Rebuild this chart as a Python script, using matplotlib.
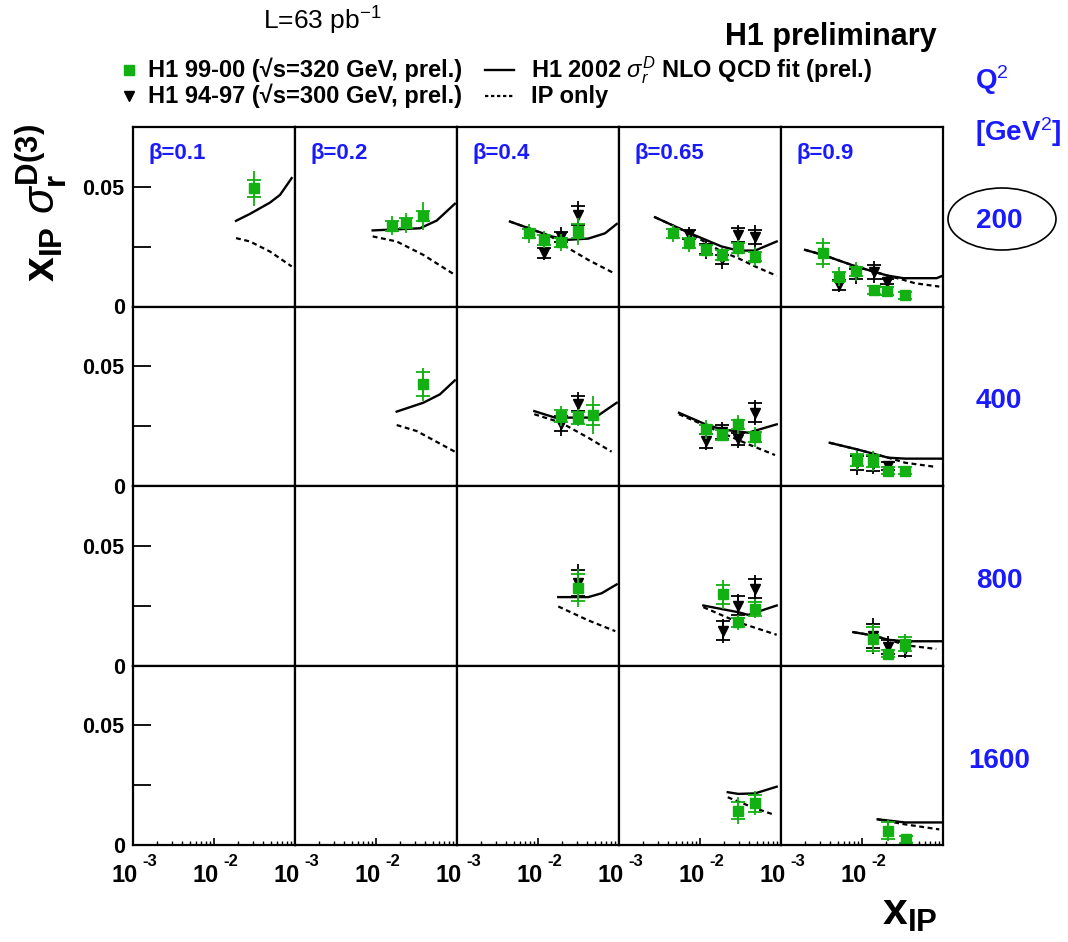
import numpy as np
import matplotlib
matplotlib.use("Agg")
import matplotlib.pyplot as plt
from matplotlib.lines import Line2D
from matplotlib.patches import Ellipse
from matplotlib.transforms import offset_copy

plt.rcParams['font.family'] = ['Liberation Sans', 'DejaVu Sans']
plt.rcParams['mathtext.fontset'] = 'custom'
plt.rcParams['mathtext.rm'] = 'Liberation Sans'
plt.rcParams['mathtext.it'] = 'Liberation Sans:italic'
plt.rcParams['mathtext.bf'] = 'Liberation Sans:bold'

# bins of the grid
q2_bins = [200, 400, 800, 1600]
beta_bins = [0.1, 0.2, 0.4, 0.65, 0.9]

# H1 99-00 (green squares): panel, x_IP, x_IP*sigma, stat error, total error
new_panels = [(200, 0.1), (200, 0.2), (200, 0.4), (200, 0.65), (200, 0.9),
              (400, 0.2), (400, 0.4), (400, 0.65), (400, 0.9),
              (800, 0.4), (800, 0.65), (800, 0.9),
              (1600, 0.65), (1600, 0.9)]
new_x = [[0.031],
         [0.0156, 0.0234, 0.0384],
         [0.0077, 0.012, 0.0192, 0.0315],
         [0.0047, 0.0074, 0.0118, 0.0185, 0.0297, 0.0478],
         [0.0033, 0.0052, 0.0084, 0.0141, 0.0205, 0.034],
         [0.0384],
         [0.0192, 0.0315, 0.0482],
         [0.0118, 0.0185, 0.0297, 0.0478],
         [0.0086, 0.0138, 0.0211, 0.034],
         [0.0315],
         [0.019, 0.0297, 0.0478],
         [0.0138, 0.0211, 0.034],
         [0.0297, 0.0478],
         [0.0211, 0.0345]]
new_y = [[0.0492],
         [0.0336, 0.0347, 0.0378],
         [0.0305, 0.0278, 0.0267, 0.0313],
         [0.0305, 0.0264, 0.0236, 0.0215, 0.0243, 0.0208],
         [0.0222, 0.0125, 0.0146, 0.0069, 0.0065, 0.0046],
         [0.0424],
         [0.0292, 0.0285, 0.0296],
         [0.0236, 0.0213, 0.0257, 0.0204],
         [0.0107, 0.0104, 0.0063, 0.0063],
         [0.0324],
         [0.0296, 0.018, 0.0236],
         [0.0111, 0.0049, 0.009],
         [0.0143, 0.0174],
         [0.006, 0.0024]]
new_stat = [[0.0035],
            [0.002, 0.002, 0.002],
            [0.002, 0.002, 0.002, 0.0029],
            [0.002, 0.002, 0.002, 0.002, 0.002, 0.002],
            [0.0044, 0.002, 0.002, 0.0015, 0.0015, 0.0015],
            [0.0049],
            [0.0025, 0.0025, 0.0042],
            [0.002, 0.002, 0.002, 0.002],
            [0.0025, 0.0025, 0.0015, 0.0015],
            [0.0056],
            [0.004, 0.002, 0.0028],
            [0.005, 0.0015, 0.003],
            [0.0035, 0.0035],
            [0.0035, 0.0015]]
new_tot = [[0.0073],
           [0.004, 0.0042, 0.0058],
           [0.004, 0.0035, 0.0037, 0.0056],
           [0.0035, 0.0035, 0.003, 0.003, 0.0035, 0.004],
           [0.0063, 0.004, 0.0038, 0.002, 0.002, 0.002],
           [0.0069],
           [0.0042, 0.0035, 0.008],
           [0.004, 0.0025, 0.004, 0.004],
           [0.004, 0.004, 0.002, 0.002],
           [0.008],
           [0.0059, 0.003, 0.004],
           [0.006, 0.002, 0.004],
           [0.0056, 0.005],
           [0.0045, 0.002]]

# H1 94-97 (black triangles)
old_panels = [(200, 0.4), (200, 0.65), (200, 0.9),
              (400, 0.4), (400, 0.65), (400, 0.9),
              (800, 0.4), (800, 0.65), (800, 0.9)]
old_x = [[0.012, 0.0192, 0.0315],
         [0.0074, 0.0118, 0.0185, 0.0297, 0.0478],
         [0.0052, 0.0084, 0.0141, 0.0205],
         [0.0192, 0.0315],
         [0.0118, 0.0185, 0.0297, 0.0478],
         [0.0086, 0.0138, 0.0211],
         [0.0315],
         [0.019, 0.0297, 0.0478],
         [0.0138, 0.0211, 0.034]]
old_y = [[0.0222, 0.029, 0.038],
         [0.030, 0.024, 0.0196, 0.0299, 0.029],
         [0.009, 0.0135, 0.0143, 0.0104],
         [0.026, 0.0343],
         [0.0188, 0.0226, 0.0194, 0.0305],
         [0.0097, 0.0093, 0.0083],
         [0.0344],
         [0.0145, 0.025, 0.032],
         [0.0122, 0.0076, 0.007]]
old_stat = [[0.002, 0.002, 0.004],
            [0.002, 0.002, 0.002, 0.003, 0.003],
            [0.002, 0.002, 0.003, 0.001],
            [0.003, 0.003],
            [0.003, 0.003, 0.0025, 0.004],
            [0.003, 0.003, 0.0015],
            [0.0055],
            [0.004, 0.004, 0.004],
            [0.005, 0.003, 0.003]]
old_tot = [[0.003, 0.004, 0.006],
           [0.003, 0.004, 0.004, 0.004, 0.005],
           [0.003, 0.004, 0.0045, 0.0017],
           [0.005, 0.0047],
           [0.004, 0.004, 0.0035, 0.0052],
           [0.005, 0.0045, 0.002],
           [0.008],
           [0.005, 0.005, 0.0056],
           [0.0075, 0.0045, 0.004]]

# NLO QCD fit (solid) and pomeron-only contribution (dotted)
curve_panels = [(200, 0.1), (200, 0.2), (200, 0.4), (200, 0.65), (200, 0.9),
                (400, 0.2), (400, 0.4), (400, 0.65), (400, 0.9),
                (800, 0.4), (800, 0.65), (800, 0.9),
                (1600, 0.65), (1600, 0.9)]
fit_x = [[0.0187, 0.0278, 0.0491, 0.0653, 0.091],
         [0.0091, 0.0349, 0.0562, 0.094],
         [0.0045, 0.0077, 0.0147, 0.0237, 0.0418, 0.0672, 0.0937],
         [0.00278, 0.0072, 0.0185, 0.0297, 0.0478, 0.0885],
         [0.00198, 0.0033, 0.0084, 0.0205, 0.0324, 0.0835, 0.1],
         [0.018, 0.0384, 0.0616, 0.094],
         [0.009, 0.0162, 0.0506, 0.0937],
         [0.0055, 0.0117, 0.0185, 0.0394, 0.0885],
         [0.004, 0.0086, 0.0211, 0.034, 0.0985],
         [0.0178, 0.0418, 0.061, 0.0937],
         [0.011, 0.0297, 0.0394, 0.0885],
         [0.0078, 0.0138, 0.0211, 0.034, 0.0985],
         [0.022, 0.0297, 0.0478, 0.0885],
         [0.0156, 0.034, 0.0985]]
fit_y = [[0.0357, 0.0386, 0.0433, 0.0465, 0.0535],
         [0.0317, 0.0326, 0.0358, 0.0428],
         [0.0354, 0.0326, 0.0292, 0.0278, 0.0283, 0.0305, 0.0344],
         [0.0372, 0.0308, 0.025, 0.0233, 0.0233, 0.0271],
         [0.0236, 0.0215, 0.0167, 0.0129, 0.0118, 0.0118, 0.0129],
         [0.031, 0.0347, 0.0382, 0.044],
         [0.0312, 0.0285, 0.0285, 0.0347],
         [0.0305, 0.0257, 0.0236, 0.0222, 0.0257],
         [0.018, 0.0153, 0.0118, 0.0114, 0.0114],
         [0.0285, 0.0285, 0.0301, 0.0338],
         [0.025, 0.0222, 0.0211, 0.025],
         [0.0139, 0.0125, 0.0107, 0.0101, 0.0101],
         [0.022, 0.0213, 0.0215, 0.0243],
         [0.0107, 0.0094, 0.0094]]
ip_x = [[0.0187, 0.0278, 0.0491, 0.091],
        [0.0091, 0.018, 0.0384, 0.094],
        [0.0045, 0.0077, 0.0147, 0.0237, 0.0418, 0.09],
        [0.00278, 0.0072, 0.0185, 0.0297, 0.0478, 0.0885],
        [0.00198, 0.0033, 0.0084, 0.0205, 0.0324, 0.045, 0.09],
        [0.018, 0.0318, 0.094],
        [0.009, 0.0192, 0.0418, 0.081],
        [0.0055, 0.0185, 0.0394, 0.0843],
        [0.004, 0.0086, 0.0211, 0.034, 0.0796],
        [0.0178, 0.0418, 0.09],
        [0.011, 0.0297, 0.0885],
        [0.0078, 0.0138, 0.0211, 0.0373, 0.0826],
        [0.022, 0.0478, 0.0843],
        [0.0156, 0.034, 0.09]]
ip_y = [[0.0285, 0.0271, 0.0229, 0.0167],
        [0.0292, 0.0271, 0.0215, 0.0132],
        [0.0354, 0.0326, 0.029, 0.0243, 0.0194, 0.0136],
        [0.0372, 0.0308, 0.0229, 0.0201, 0.0167, 0.0128],
        [0.0236, 0.0215, 0.0167, 0.0129, 0.0111, 0.0097, 0.0083],
        [0.0254, 0.0229, 0.0143],
        [0.0299, 0.0264, 0.0201, 0.0143],
        [0.0299, 0.0222, 0.0174, 0.0129],
        [0.018, 0.0153, 0.0118, 0.0097, 0.008],
        [0.0246, 0.0188, 0.0143],
        [0.0243, 0.018, 0.0128],
        [0.0139, 0.0125, 0.0107, 0.0083, 0.0069],
        [0.0199, 0.0153, 0.0125],
        [0.0107, 0.0086, 0.0065]]

GREEN = '#12b012'
BLUE = '#1a1aff'
W, H = 1068, 942

fig = plt.figure(figsize=(W / 100, H / 100), dpi=100)

# panel grid in pixels
x0, y0, pw, ph = 133, 127, 162, 179.5
axes = {}
for i, q2 in enumerate(q2_bins):
    for j, beta in enumerate(beta_bins):
        ax = fig.add_axes([(x0 + j * pw) / W, 1 - (y0 + (i + 1) * ph) / H, pw / W, ph / H])
        ax.set_xscale('log')
        ax.set_xlim(1e-3, 1e-1)
        ax.set_ylim(0, 0.0748)
        for s in ax.spines.values():
            s.set_linewidth(1.6)
        ax.tick_params(which='both', direction='in', left=False, bottom=False,
                       labelleft=False, labelbottom=False)
        if j == 0:
            ax.set_yticks([0, 0.025, 0.05])
            ax.set_yticklabels(['0', '', '0.05'], fontweight='bold', fontsize=15.5)
            ax.tick_params(axis='y', left=True, labelleft=True, length=13, width=1.3, pad=6)
        if i == len(q2_bins) - 1:
            ax.tick_params(axis='x', which='major', bottom=True, length=5, width=1.2)
            ax.tick_params(axis='x', which='minor', bottom=True, length=3, width=1.0)
            trans = ax.get_xaxis_transform()
            for val, ex in [(1e-3, '-3'), (1e-2, '-2')]:
                ax.text(val, 0, '10', transform=offset_copy(trans, fig, x=-8, y=-30, units='dots'),
                        ha='center', va='center', fontsize=17, fontweight='bold')
                ax.text(val, 0, ex, transform=offset_copy(trans, fig, x=17, y=-17, units='dots'),
                        ha='center', va='center', fontsize=12, fontweight='bold')
        if i == 0:
            ax.text(15 / pw, 1 - 26 / ph, '\u03b2=%g' % beta, transform=ax.transAxes,
                    color=BLUE, fontsize=16, fontweight='bold', va='center', ha='left')
        axes[(q2, beta)] = ax

# theory curves
for k, key in enumerate(curve_panels):
    ax = axes[key]
    ax.plot(ip_x[k], ip_y[k], color='black', lw=1.6, ls=(0, (2.2, 1.6)))
    ax.plot(fit_x[k], fit_y[k], color='black', lw=1.7)

# data points: inner ticks mark the statistical error, the bar the total error
def draw_points(ax, x, y, stat, tot, color, marker, ms):
    ax.errorbar(x, y, yerr=tot, fmt='none', ecolor=color, elinewidth=1.3, capsize=0)
    ax.errorbar(x, y, yerr=stat, fmt='none', ecolor=color, elinewidth=1.3,
                capsize=5, capthick=1.3)
    ax.plot(x, y, ls='none', marker=marker, color=color, ms=ms, mec=color)

for k, key in enumerate(old_panels):
    draw_points(axes[key], old_x[k], old_y[k], old_stat[k], old_tot[k], 'black', 'v', 7)
for k, key in enumerate(new_panels):
    draw_points(axes[key], new_x[k], new_y[k], new_stat[k], new_tot[k], GREEN, 's', 7)

# header texts
fig.text(322 / W, 1 - 21 / H, r'L=63 pb$^{-1}$', fontsize=19, ha='center', va='center')
fig.text(937 / W, 1 - 37 / H, 'H1 preliminary', fontsize=22, fontweight='bold',
         ha='right', va='center')

# legend
fig.add_artist(Line2D([129 / W], [1 - 70 / H], marker='s', color=GREEN, ms=6.5, ls='none'))
fig.add_artist(Line2D([129 / W], [1 - 96 / H], marker='v', color='black', ms=6.5, ls='none'))
fig.add_artist(Line2D([485 / W, 514 / W], [1 - 70 / H] * 2, color='black', lw=1.7))
fig.add_artist(Line2D([485 / W, 514 / W], [1 - 96 / H] * 2, color='black', lw=1.6,
                      ls=(0, (1.5, 1.2))))
leg_kw = dict(fontsize=17, fontweight='bold', ha='left', va='center')
fig.text(148 / W, 1 - 70 / H, 'H1 99-00 (\u221as=320 GeV, prel.)', **leg_kw)
fig.text(148 / W, 1 - 96 / H, 'H1 94-97 (\u221as=300 GeV, prel.)', **leg_kw)
fig.text(531 / W, 1 - 70 / H, r'H1 2002 $\sigma_r^D$ NLO QCD fit (prel.)', **leg_kw)
fig.text(531 / W, 1 - 96 / H, 'IP only', **leg_kw)

# Q^2 labels on the right
fig.text(975 / W, 1 - 80 / H, r'Q$^2$', color=BLUE, fontsize=20, fontweight='bold',
         ha='left', va='center')
fig.text(975 / W, 1 - 132 / H, r'[GeV$^2$]', color=BLUE, fontsize=20, fontweight='bold',
         ha='left', va='center')
for i, q2 in enumerate(q2_bins):
    fig.text(999 / W, 1 - (221 + 180 * i) / H, str(q2), color=BLUE, fontsize=20,
             fontweight='bold', ha='center', va='center')
fig.add_artist(Ellipse((1002 / W, 1 - 219 / H), 108 / W, 62 / H, fill=False,
                       ec='black', lw=1.2, transform=fig.transFigure))

# axis titles
fig.text(42 / W, 1 - 203 / H, r'$\mathbf{x_{IP}}\ \sigma_{\mathbf{r}}^{\mathbf{D(3)}}$',
         rotation=90, fontsize=32, ha='center', va='center')
fig.text(910 / W, 1 - 914 / H, r'$\mathbf{x_{IP}}$', fontsize=32, ha='center', va='center')

fig.savefig('out.png', dpi=100)
